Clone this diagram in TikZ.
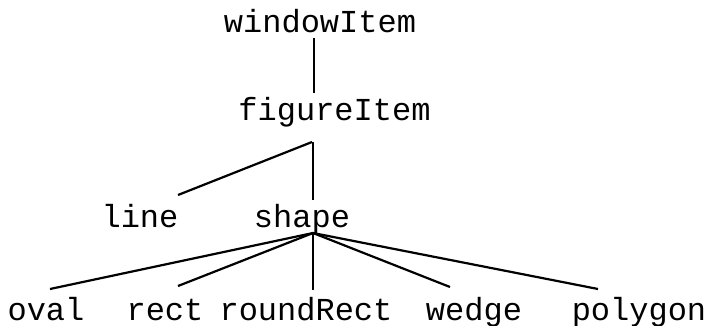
\documentclass[tikz,border=0pt]{standalone}
\usepackage{fontspec}
\setmonofont{Liberation Mono}
\tikzset{
  item/.style={anchor=base, inner sep=0pt, font=\ttfamily\fontsize{32}{32}\selectfont},
  link/.style={line width=2.2pt}
}
\begin{document}
\begin{tikzpicture}[x=1pt, y=-1pt]
        \useasboundingbox (0,0) rectangle (709,325);
        \node[item] at (320,32) (windowItem) {windowItem};
        \node[item] at (334.5,120) (figureItem) {figureItem};
        \node[item] at (140,227) (line) {line};
        \node[item] at (302,227) (shape) {shape};
        \node[item] at (46,320) (oval) {oval};
        \node[item] at (165,320) (rect) {rect};
        \node[item] at (306,320) (roundRect) {roundRect};
        \node[item] at (474,320) (wedge) {wedge};
        \node[item] at (639,320) (polygon) {polygon};

        \draw[link] ([shift={(-6,6)}]windowItem.base) -- ([shift={(-20.5,-27)}]figureItem.base);
        \draw[link] ([shift={(-22.5,22)}]figureItem.base) -- ([shift={(38,-32)}]line.base);
        \draw[link] ([shift={(-21.5,22)}]figureItem.base) -- ([shift={(11,-27)}]shape.base);
        \draw[link] ([shift={(11,6)}]shape.base) -- ([shift={(4,-31)}]oval.base);
        \draw[link] ([shift={(11,6)}]shape.base) -- ([shift={(13,-34)}]rect.base);
        \draw[link] ([shift={(11,6)}]shape.base) -- ([shift={(7,-30)}]roundRect.base);
        \draw[link] ([shift={(11,6)}]shape.base) -- ([shift={(-24,-33)}]wedge.base);
        \draw[link] ([shift={(11,6)}]shape.base) -- ([shift={(-41,-31)}]polygon.base);
      \end{tikzpicture}
\end{document}
